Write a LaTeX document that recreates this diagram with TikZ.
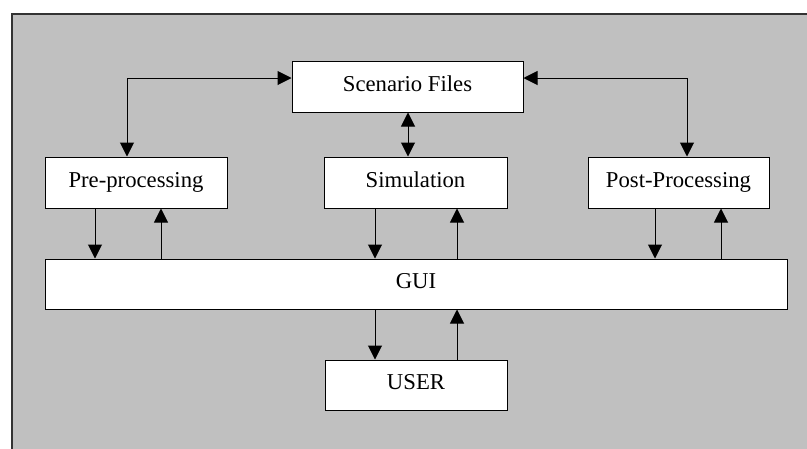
\documentclass[tikz,border=0pt]{standalone}
\usepackage{fontspec}
\setmainfont{Liberation Serif}
\usetikzlibrary{arrows.meta}
\tikzset{
  box/.style={draw=black, line width=1pt, fill=white, minimum height=51pt, inner sep=0pt, text height=15pt, text depth=6pt, font=\fontsize{22.7}{26}\selectfont},
  conn/.style={line width=1pt, draw=black},
  tip/.tip={Triangle[length=14pt,width=14pt]}
}
\begin{document}
\begin{tikzpicture}[x=1pt,y=-1pt]
\useasboundingbox (0,0) rectangle (807,448);
\begin{scope}
\clip (0,0) rectangle (807,448);
\draw[line width=1.3pt, draw=black!80, fill={rgb,255:red,192;green,192;blue,192}] (12,14) rectangle (815,455);
\end{scope}
\node[box, minimum width=231pt] (scen) at (407.5,86.5) {Scenario Files};
\node[box, minimum width=182pt] (pre) at (136,182.5) {Pre-processing};
\node[box, minimum width=183pt] (sim) at (415.5,182.5) {Simulation};
\node[box, minimum width=181pt] (post) at (678.5,182.5) {Post-Processing};
\node[box, minimum width=742pt, minimum height=50pt] (gui) at (416,284) {GUI};
\node[box, minimum width=182pt, minimum height=50pt] (user) at (416,385) {USER};
\coordinate (lc) at (127,78);
\coordinate (rc) at (687,78);
\draw[conn, tip-tip] (pre.north -| lc) -- (lc) -- (scen.west |- lc);
\draw[conn, tip-tip] (post.north -| rc) -- (rc) -- (scen.east |- rc);
\coordinate (sx) at (408,0);
\draw[conn, tip-tip] (scen.south -| sx) -- (sim.north -| sx);
% pre <-> gui
\coordinate (p1) at (95,0);
\coordinate (p2) at (161,0);
\draw[conn, -tip] (pre.south -| p1) -- (gui.north -| p1);
\draw[conn, -tip] (gui.north -| p2) -- (pre.south -| p2);
% sim <-> gui
\coordinate (s1) at (375,0);
\coordinate (s2) at (457,0);
\draw[conn, -tip] (sim.south -| s1) -- (gui.north -| s1);
\draw[conn, -tip] (gui.north -| s2) -- (sim.south -| s2);
% post <-> gui
\coordinate (q1) at (655,0);
\coordinate (q2) at (721,0);
\draw[conn, -tip] (post.south -| q1) -- (gui.north -| q1);
\draw[conn, -tip] (gui.north -| q2) -- (post.south -| q2);
% gui <-> user
\draw[conn, -tip] (gui.south -| s1) -- (user.north -| s1);
\draw[conn, -tip] (user.north -| s2) -- (gui.south -| s2);
\end{tikzpicture}
\end{document}
